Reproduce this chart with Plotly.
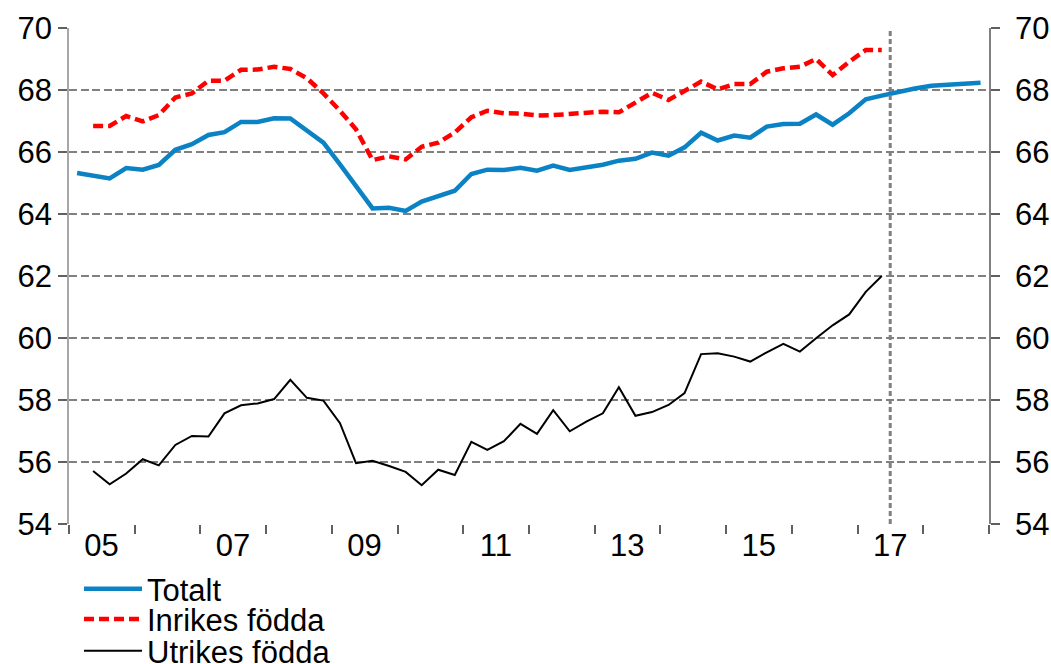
import plotly.graph_objects as go

# Quarterly observations, 2005Q1 .. 2018Q4 (mid-quarter dates)
quarters = [f"{y}-{m:02d}-15" for y in range(2005, 2019) for m in (2, 5, 8, 11)]

totalt = [65.32, 65.23, 65.15, 65.48, 65.43, 65.58, 66.07, 66.25, 66.55, 66.64,
          66.97, 66.97, 67.09, 67.08, 66.71, 66.30, 65.60, 64.91, 64.18, 64.20,
          64.10, 64.40, 64.58, 64.75, 65.29, 65.43, 65.42, 65.49, 65.40, 65.56,
          65.42, 65.49, 65.59, 65.72, 65.78, 65.98, 65.88, 66.15, 66.62, 66.37,
          66.53, 66.46, 66.82, 66.90, 66.91, 67.21, 66.88, 67.25, 67.70, 67.82,
          67.94, 68.05, 68.14, 68.17, 68.19, 68.23]

inrikes = [66.84, 66.84, 67.16, 66.99, 67.19, 67.76, 67.89, 68.30, 68.30, 68.65,
           68.66, 68.75, 68.68, 68.38, 67.89, 67.33, 66.73, 65.74, 65.86, 65.76,
           66.17, 66.30, 66.63, 67.12, 67.33, 67.25, 67.24, 67.18, 67.19, 67.23,
           67.26, 67.30, 67.28, 67.60, 67.91, 67.68, 67.98, 68.27, 68.02, 68.19,
           68.19, 68.59, 68.70, 68.75, 69.00, 68.48, 68.91, 69.29, 69.29]

utrikes = [55.71, 55.28, 55.63, 56.09, 55.89, 56.55, 56.84, 56.82, 57.57, 57.83,
           57.89, 58.03, 58.65, 58.07, 57.98, 57.25, 55.96, 56.04, 55.87, 55.68,
           55.25, 55.75, 55.58, 56.65, 56.39, 56.67, 57.23, 56.91, 57.67, 56.99,
           57.30, 57.57, 58.41, 57.49, 57.61, 57.84, 58.22, 59.48, 59.51, 59.40,
           59.24, 59.54, 59.81, 59.56, 59.99, 60.41, 60.76, 61.49, 62.00]

tick_dates = ["2005-07-01", "2007-07-01", "2009-07-01", "2011-07-01",
              "2013-07-01", "2015-07-01", "2017-07-01"]
tick_labels = ["05", "07", "09", "11", "13", "15", "17"]
year_starts = [f"{y}-01-01" for y in range(2005, 2020)]
forecast_start = "2017-07-01"
y_ticks = [54, 56, 58, 60, 62, 64, 66, 68, 70]

FONT = "Liberation Sans"
FS = 31

fig = go.Figure()
fig.add_trace(go.Scatter(x=quarters, y=totalt, name="Totalt", mode="lines",
                         line=dict(color="#0A82C4", width=4.5), legend="legend"))
fig.add_trace(go.Scatter(x=quarters[1:1 + len(inrikes)], y=inrikes, name="Inrikes födda",
                         mode="lines", line=dict(color="#FF0000", width=4.5, dash="10px,5px"),
                         legend="legend2"))
fig.add_trace(go.Scatter(x=quarters[1:1 + len(utrikes)], y=utrikes, name="Utrikes födda",
                         mode="lines", line=dict(color="#000000", width=2), legend="legend3"))
# invisible trace to activate the right-hand axis
fig.add_trace(go.Scatter(x=[quarters[0]], y=[None], yaxis="y2", showlegend=False,
                         hoverinfo="skip"))

fig.add_shape(type="line", xref="x", yref="y", x0=forecast_start, x1=forecast_start,
              y0=54, y1=70, line=dict(color="#808080", width=3, dash="5px,3px"))

legend_common = dict(font=dict(family=FONT, size=FS, color="black"),
                     bgcolor="rgba(0,0,0,0)", itemwidth=58, xanchor="left",
                     yanchor="middle", borderwidth=0, tracegroupgap=0)
lx = 10 / 920
fig.update_layout(
    width=1051, height=664,
    margin=dict(l=69, r=62, t=28, b=140, autoexpand=False),
    paper_bgcolor="white", plot_bgcolor="white",
    font=dict(family=FONT, size=FS, color="black"),
    showlegend=True,
    legend=dict(x=lx, y=-0.131, **legend_common),
    legend2=dict(x=lx, y=-0.192, **legend_common),
    legend3=dict(x=lx, y=-0.256, **legend_common),
    xaxis=dict(type="date", range=["2005-01-01", "2019-01-01"],
               tickmode="array", tickvals=tick_dates, ticktext=tick_labels,
               ticks="", showgrid=False, showline=False, zeroline=False,
               tickfont=dict(family=FONT, size=FS, color="black"),
               minor=dict(tickmode="array", tickvals=year_starts, ticks="outside",
                          ticklen=9, tickwidth=1.5, tickcolor="#606060", showgrid=False),
               automargin=False),
    yaxis=dict(range=[54, 70], tickmode="array", tickvals=y_ticks,
               showgrid=True, gridcolor="#808080", gridwidth=2, griddash="8px,3.5px",
               showline=True, linecolor="#A6A6A6", linewidth=1.5,
               ticks="outside", ticklen=9, tickwidth=1.5, tickcolor="#606060",
               zeroline=False, tickfont=dict(family=FONT, size=FS, color="black"),
               automargin=False),
    yaxis2=dict(range=[54, 70], tickmode="array", tickvals=y_ticks, overlaying="y",
                side="right", showgrid=False, showline=True, linecolor="#808080",
                linewidth=1.5, ticks="outside", ticklen=9, tickwidth=1.5,
                tickcolor="#606060", zeroline=False, ticklabelstandoff=9,
                tickfont=dict(family=FONT, size=FS, color="black"), automargin=False),
)

fig.write_html("out.html", config={"displayModeBar": False},
               post_script="document.body.style.margin='0';"
                           "document.body.style.overflow='hidden';")
